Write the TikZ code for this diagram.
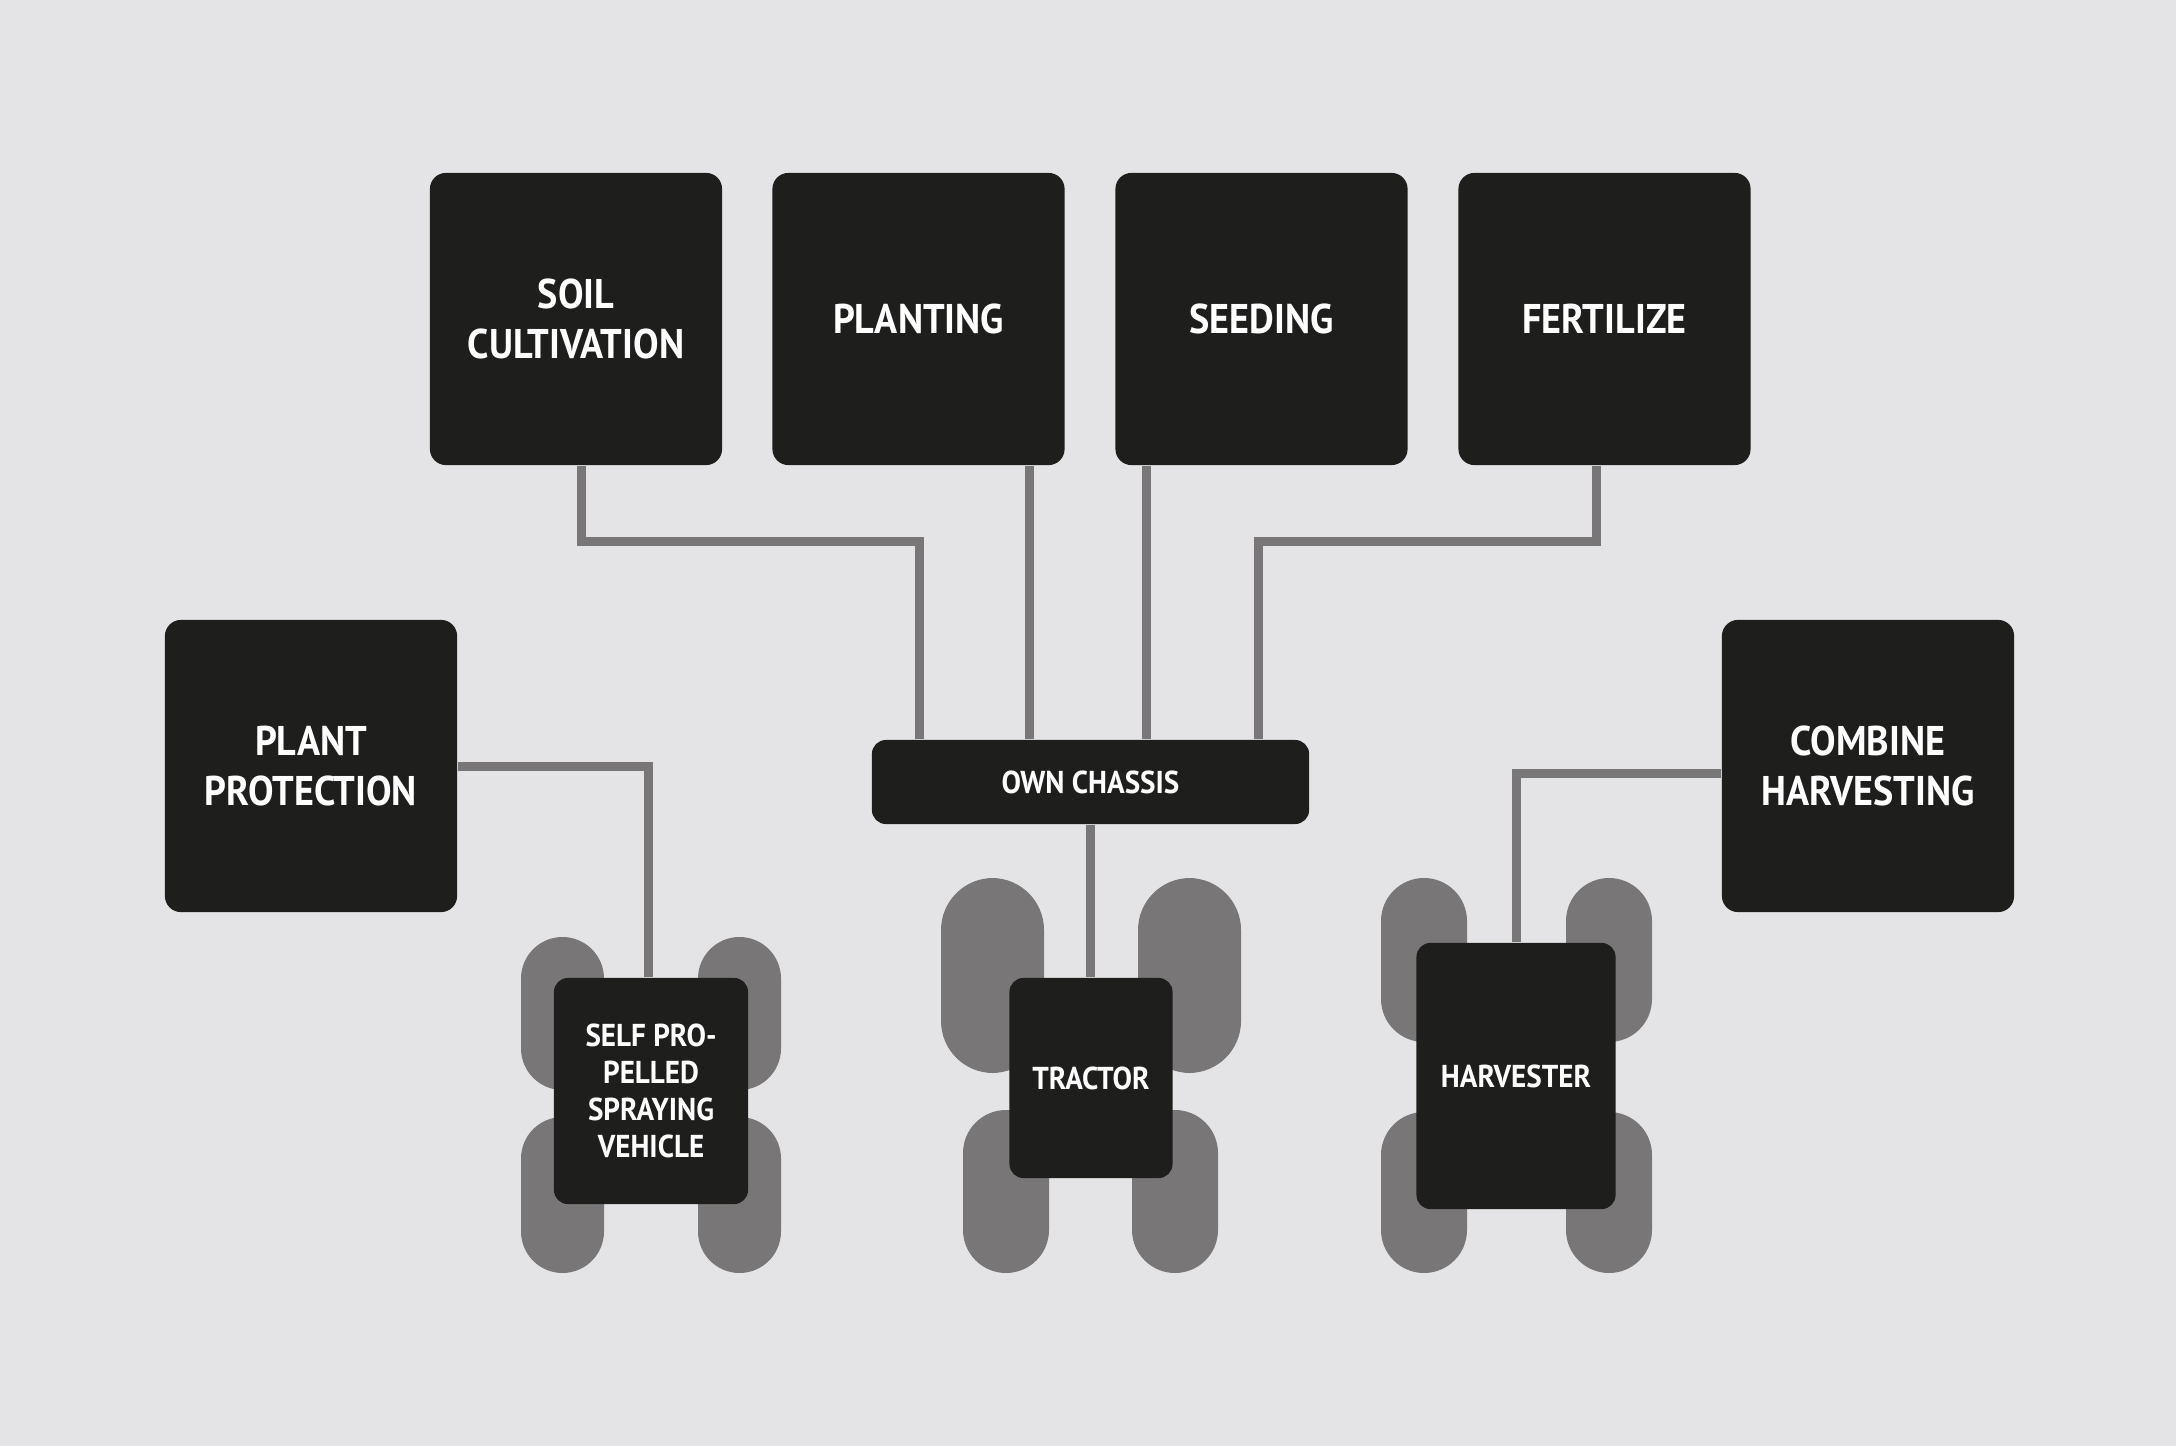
\documentclass[tikz,border=0pt]{standalone}
\usepackage{fontspec}
\setmainfont{PT Sans}[FakeStretch=0.92]
\definecolor{bg}{HTML}{E4E4E6}
\definecolor{boxc}{HTML}{1E1E1C}
\definecolor{greyc}{HTML}{787677}
\tikzset{
  bigbox/.style={fill=boxc, rounded corners=0.16cm, minimum width=2.92cm, minimum height=2.92cm, inner sep=0pt, align=center, text=white, font=\bfseries\fontsize{11.8}{14.2}\selectfont},
  smallbox/.style={fill=boxc, rounded corners=0.14cm, inner sep=0pt, align=center, text=white, font=\bfseries\fontsize{9}{10.5}\selectfont},
  conn/.style={draw=greyc, line width=0.09cm},
  wheel/.style={fill=greyc}
}
\begin{document}
\begin{tikzpicture}[x=0.01cm, y=-0.01cm]
\fill[bg] (0,0) rectangle (2176,1446);
\useasboundingbox (0,0) rectangle (2176,1446);
% wheels
\fill[wheel, rounded corners=0.415cm] (521,937) rectangle (604,1090);
\fill[wheel, rounded corners=0.415cm] (698,937) rectangle (781,1090);
\fill[wheel, rounded corners=0.415cm] (521,1117) rectangle (604,1273);
\fill[wheel, rounded corners=0.415cm] (698,1117) rectangle (781,1273);
\fill[wheel, rounded corners=0.52cm] (941,878) rectangle (1044,1073);
\fill[wheel, rounded corners=0.52cm] (1138,878) rectangle (1241,1073);
\fill[wheel, rounded corners=0.43cm] (963,1110) rectangle (1049,1273);
\fill[wheel, rounded corners=0.43cm] (1132,1110) rectangle (1218,1273);
\fill[wheel, rounded corners=0.43cm] (1381,878) rectangle (1467,1042);
\fill[wheel, rounded corners=0.43cm] (1566,878) rectangle (1652,1042);
\fill[wheel, rounded corners=0.43cm] (1381,1112) rectangle (1467,1273);
\fill[wheel, rounded corners=0.43cm] (1566,1112) rectangle (1652,1273);
% top boxes
\node[bigbox] (soil) at (576,319) {SOIL\\CULTIVATION};
\node[bigbox] (plant) at (918.5,319) {PLANTING};
\node[bigbox] (seed) at (1261.5,319) {SEEDING};
\node[bigbox] (fert) at (1604.5,319) {FERTILIZE};
\node[bigbox] (pp) at (311,766) {PLANT\\PROTECTION};
\node[bigbox] (comb) at (1868,766) {COMBINE\\HARVESTING};
\node[smallbox, minimum width=4.37cm, minimum height=0.84cm] (chassis) at (1090.5,782) {OWN CHASSIS};
\node[smallbox, minimum width=1.94cm, minimum height=2.26cm] (spray) at (651,1091) {SELF PRO-\\PELLED\\SPRAYING\\VEHICLE};
\node[smallbox, minimum width=1.63cm, minimum height=2.00cm] (tractor) at (1091,1078) {TRACTOR};
\node[smallbox, minimum width=1.99cm, minimum height=2.66cm] (harv) at (1516,1076) {HARVESTER};
% connector end points on chassis
\coordinate (c1) at ([xshift=-1.705cm]chassis.north);
\coordinate (c2) at ([xshift=-0.605cm]chassis.north);
\coordinate (c3) at ([xshift=0.555cm]chassis.north);
\coordinate (c4) at ([xshift=1.675cm]chassis.north);
% connectors
\draw[conn] ([xshift=0.05cm]soil.south) -- ++(0,76) -| (c1);
\draw[conn] (c2 |- plant.south) -- (c2);
\draw[conn] (c3 |- seed.south) -- (c3);
\draw[conn] ([xshift=-0.085cm]fert.south) -- ++(0,76) -| (c4);
\draw[conn] (chassis.south) -- (chassis.south |- tractor.north);
\draw[conn] (pp.east) -| ([xshift=-0.03cm]spray.north);
\draw[conn] ([yshift=-0.07cm]comb.west) -| (harv.north);
\end{tikzpicture}
\end{document}
